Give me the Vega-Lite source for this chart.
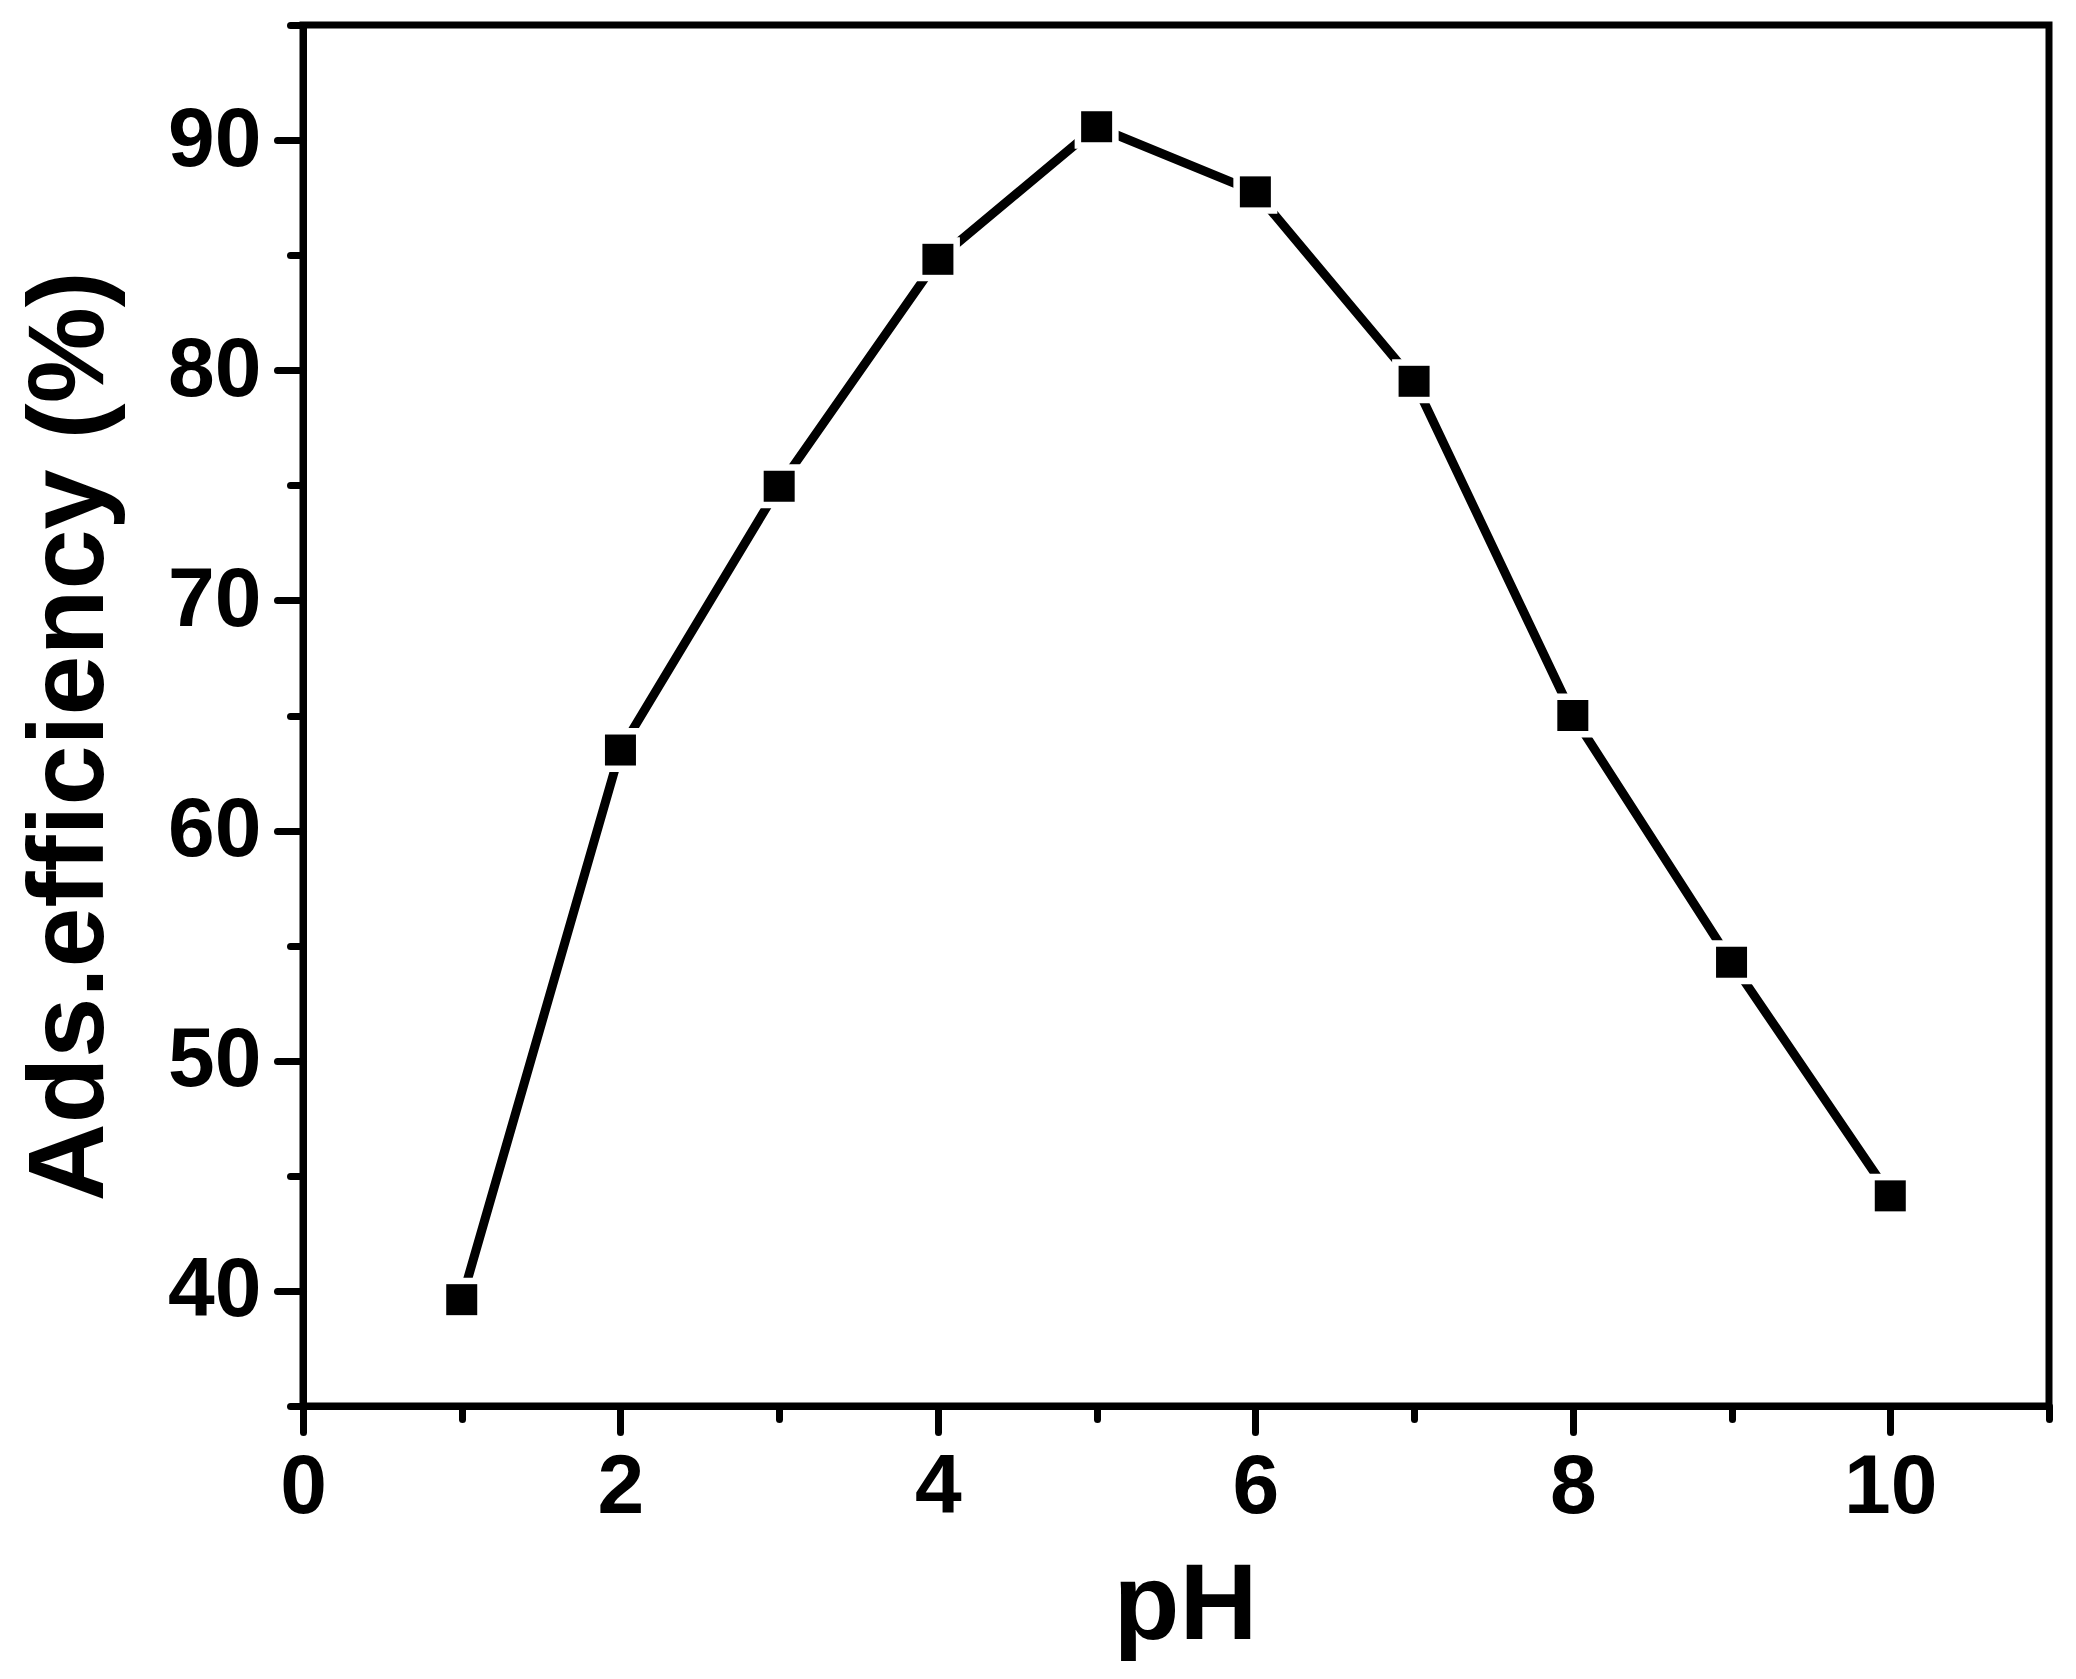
{
  "$schema": "https://vega.github.io/schema/vega-lite/v6.json",
  "autosize": {"type": "none"},
  "padding": {"left": 303, "top": 25, "right": 27, "bottom": 273},
  "width": 1746,
  "height": 1381,
  "background": "white",
  "config": {
    "view": {"stroke": "black", "strokeWidth": 7},
    "axis": {
      "grid": false,
      "domainColor": "black",
      "domainWidth": 7,
      "tickColor": "black",
      "tickWidth": 7,
      "tickCap": "round",
      "labelFont": "Liberation Sans",
      "labelFontWeight": "bold",
      "labelFontSize": 84,
      "labelColor": "black",
      "titleFont": "Liberation Sans",
      "titleFontWeight": "bold",
      "titleFontSize": 108,
      "titleColor": "black",
      "labelOverlap": false,
      "labelFlush": false
    }
  },
  "data": {
    "values": [
      {"pH": 1, "eff": 39.62},
      {"pH": 2, "eff": 63.5},
      {"pH": 3, "eff": 74.96},
      {"pH": 4, "eff": 84.82},
      {"pH": 5, "eff": 90.58},
      {"pH": 6, "eff": 87.75},
      {"pH": 7, "eff": 79.52},
      {"pH": 8, "eff": 65.0},
      {"pH": 9, "eff": 54.28},
      {"pH": 10, "eff": 44.13}
    ]
  },
  "encoding": {
    "x": {
      "field": "pH",
      "type": "quantitative",
      "scale": {"domain": [0, 11], "nice": false, "zero": false},
      "axis": {
        "title": "pH",
        "values": [0, 1, 2, 3, 4, 5, 6, 7, 8, 9, 10, 11],
        "labelExpr": "datum.value % 2 === 0 ? datum.label : ''",
        "tickSize": {"condition": {"test": "datum.value % 2 === 0", "value": 26}, "value": 13},
        "labelPadding": 14,
        "titleX": 882,
        "titleY": 232,
        "titleAlign": "center",
        "titleBaseline": "alphabetic"
      }
    },
    "y": {
      "field": "eff",
      "type": "quantitative",
      "scale": {"domain": [35, 95], "nice": false, "zero": false},
      "axis": {
        "title": "Ads.efficiency (%)",
        "values": [35, 40, 45, 50, 55, 60, 65, 70, 75, 80, 85, 90, 95],
        "labelExpr": "datum.value % 10 === 0 ? datum.label : ''",
        "tickSize": {"condition": {"test": "datum.value % 10 === 0", "value": 26}, "value": 13},
        "labelPadding": 16,
        "titleX": -201,
        "titleY": 711,
        "titleAngle": 270,
        "titleAlign": "center",
        "titleBaseline": "alphabetic"
      }
    }
  },
  "layer": [
    {"mark": {"type": "line", "color": "black", "strokeWidth": 9, "strokeCap": "round", "strokeJoin": "round"}},
    {"mark": {"type": "point", "shape": "square", "filled": true, "color": "white", "opacity": 1, "size": 1936}},
    {"mark": {"type": "point", "shape": "square", "filled": true, "color": "black", "opacity": 1, "size": 961}}
  ]
}
